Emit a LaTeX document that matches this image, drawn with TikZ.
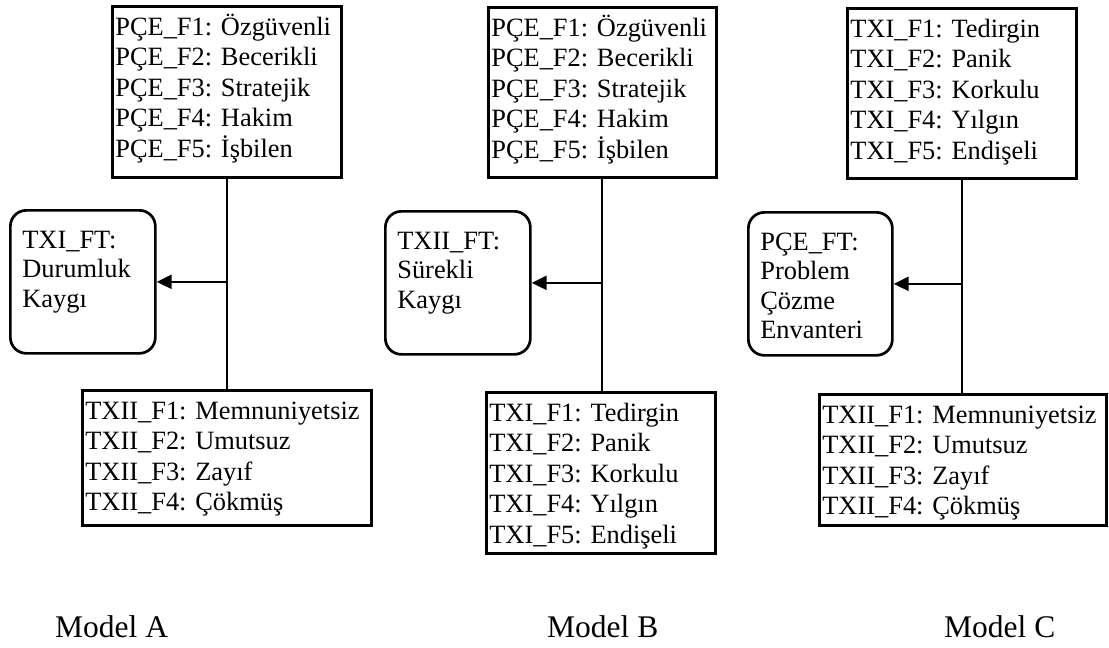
\documentclass[tikz,border=0pt]{standalone}
\usepackage{fontspec}
\setmainfont{Liberation Serif}
\usetikzlibrary{arrows.meta}
\begin{document}
\begin{tikzpicture}[x=1pt,y=-1pt,
  % rectangular factor list: #1 text width, #2 depth below last baseline
  factorbox/.style n args={2}{draw, line width=2.7pt, inner xsep=3pt, inner ysep=0pt,
    anchor=north west, align=left, text width=#1,
    font=\fontsize{26.4}{30.5}\selectfont,
    execute at begin node={\rule{0pt}{29pt}},
    execute at end node={\rule[-#2]{0pt}{#2}}},
  % rounded latent-factor box
  latentbox/.style n args={2}{draw, line width=2.7pt, rounded corners=16pt,
    inner xsep=12pt, inner ysep=0pt, anchor=north west, align=left, text width=#1,
    font=\fontsize{26.4}{29.5}\selectfont,
    execute at begin node={\rule{0pt}{38pt}},
    execute at end node={\rule[-#2]{0pt}{#2}}},
  modellabel/.style={anchor=base west, inner sep=0pt, font=\fontsize{31.5}{36}\selectfont},
  link/.style={line width=2pt},
  pointer/.style={line width=2.4pt, -{Triangle[length=15pt,width=14pt]}}
]
\useasboundingbox (0,0) rectangle (1109,648);

% ---------- Model A ----------
\node[factorbox={223pt}{20pt}] (topA) at (111,5)
  {PÇE\_F1:~Özgüvenli\\PÇE\_F2:~Becerikli\\PÇE\_F3:~Stratejik\\PÇE\_F4:~Hakim\\PÇE\_F5:~İşbilen};
\node[latentbox={121pt}{46pt}] (rrA) at (9,209)
  {TXI\_FT:\\Durumluk\\Kaygı};
\node[factorbox={283pt}{14.5pt}] (botA) at (81,389)
  {TXII\_F1:~Memnuniyetsiz\\TXII\_F2:~Umutsuz\\TXII\_F3:~Zayıf\\TXII\_F4:~Çökmüş};
\node[modellabel] (labA) at (55,637) {Model A};

\draw[link] (topA.south) -- (topA.south |- botA.north);
\draw[pointer] (topA.south |- rrA.east) -- (rrA.east);

% ---------- Model B ----------
\node[factorbox={222pt}{19pt}] (topB) at (487,6)
  {PÇE\_F1:~Özgüvenli\\PÇE\_F2:~Becerikli\\PÇE\_F3:~Stratejik\\PÇE\_F4:~Hakim\\PÇE\_F5:~İşbilen};
\node[latentbox={121pt}{46pt}] (rrB) at (384,210)
  {TXII\_FT:\\Sürekli\\Kaygı};
\node[factorbox={223pt}{10pt}] (botB) at (485,391)
  {TXI\_F1:~Tedirgin\\TXI\_F2:~Panik\\TXI\_F3:~Korkulu\\TXI\_F4:~Yılgın\\TXI\_F5:~Endişeli};
\node[modellabel] (labB) at (547,637) {Model B};

\draw[link] (topB.south) -- (topB.south |- botB.north);
\draw[pointer] (topB.south |- rrB.east) -- (rrB.east);

% ---------- Model C ----------
\node[factorbox={223pt}{19pt}] (topC) at (846,7)
  {TXI\_F1:~Tedirgin\\TXI\_F2:~Panik\\TXI\_F3:~Korkulu\\TXI\_F4:~Yılgın\\TXI\_F5:~Endişeli};
\node[latentbox={120pt}{16.5pt}] (rrC) at (747,211)
  {PÇE\_FT:\\Problem\\Çözme\\Envanteri};
\node[factorbox={281pt}{10.5pt}] (botC) at (818,393)
  {TXII\_F1:~Memnuniyetsiz\\TXII\_F2:~Umutsuz\\TXII\_F3:~Zayıf\\TXII\_F4:~Çökmüş};
\node[modellabel] (labC) at (944,637) {Model C};

\draw[link] (topC.south) -- (topC.south |- botC.north);
\draw[pointer] (topC.south |- rrC.east) -- (rrC.east);
\end{tikzpicture}
\end{document}
